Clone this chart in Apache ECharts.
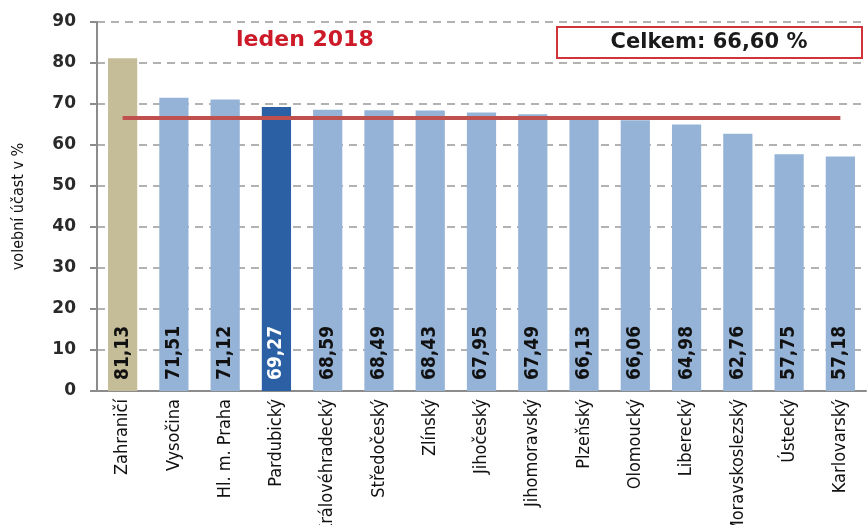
<!DOCTYPE html>
<html>
<head>
<meta charset="utf-8">
<script src="https://cdn.jsdelivr.net/npm/echarts@6/dist/echarts.min.js"></script>
<style>
    html, body { margin: 0; padding: 0; background: #fff; }
    #volebni_ucast { width: 867px; height: 525px; }
</style>
</head>
<body>
<div id="volebni_ucast"></div>
<script>
// volební účast podle krajů, leden 2018
const kraje = ['Zahraničí', 'Vysočina', 'Hl. m. Praha', 'Pardubický', 'Královéhradecký', 'Středočeský', 'Zlínský',
    'Jihočeský', 'Jihomoravský', 'Plzeňský', 'Olomoucký', 'Liberecký', 'Moravskoslezský', 'Ústecký', 'Karlovarský'];
const ucast = [81.13, 71.51, 71.12, 69.27, 68.59, 68.49, 68.43, 67.95, 67.49, 66.13, 66.06, 64.98, 62.76, 57.75, 57.18];
const celkem = 66.60;
const yTicks = [0, 90, 10]; // min, max, interval

const narrow = '"Liberation Sans Narrow", "DejaVu Sans Condensed", sans-serif';
const wide = '"DejaVu Sans", Verdana, sans-serif';

function barColor (name) {
    if (name === 'Zahraničí') return '#c4bd97';
    if (name === 'Pardubický') return '#2b60a5';
    return '#95b3d7';
}

let chart = echarts.init(document.getElementById('volebni_ucast'));
const option = {
    animation: false,
    grid: { left: 97, right: 1, top: 22, bottom: 134, containLabel: false, outerBoundsMode: 'none' },
    graphic: [
        {
            type: 'text', left: 236, top: 29,
            style: { text: 'leden 2018', fill: '#cc1a28', font: 'bold 22px ' + wide }
        },
        {
            type: 'rect', shape: { x: 557, y: 27, width: 305, height: 31 },
            style: { fill: '#fff', stroke: '#d0343a', lineWidth: 2 }
        },
        {
            type: 'text', x: 709, y: 43,
            style: { text: 'Celkem: ' + celkem.toFixed(2).replace('.', ',') + ' %', fill: '#1a1a1a',
                font: 'bold 21px ' + wide, align: 'center', verticalAlign: 'middle' }
        }
    ],
    xAxis: {
        type: 'category',
        data: kraje,
        axisLine: { lineStyle: { color: '#8c8c8c', width: 2 } },
        axisTick: { alignWithLabel: false, length: 6, lineStyle: { color: '#8c8c8c', width: 2 } },
        axisLabel: { rotate: 90, margin: 8, fontSize: 18, fontFamily: narrow, color: '#111', interval: 0 }
    },
    yAxis: {
        type: 'value',
        min: yTicks[0], max: yTicks[1], interval: yTicks[2],
        name: 'volební účast v %',
        nameLocation: 'middle',
        nameGap: 70,
        nameRotate: 90,
        nameTextStyle: { fontSize: 16, fontFamily: narrow, color: '#111' },
        axisLine: { show: true, lineStyle: { color: '#8c8c8c', width: 2 } },
        axisTick: { show: true, length: 7, lineStyle: { color: '#8c8c8c', width: 2 } },
        axisLabel: { margin: 21, fontSize: 17, fontWeight: 'bold', fontFamily: wide, color: '#2a2a2a' },
        splitLine: { lineStyle: { color: '#999', type: [8, 6], width: 1.5 } }
    },
    series: [{
        type: 'bar',
        barWidth: '57%',
        data: ucast.map((v, i) => ({
            value: v,
            itemStyle: { color: barColor(kraje[i]) },
            label: { color: kraje[i] === 'Pardubický' ? '#fff' : '#111' }
        })),
        label: {
            show: true,
            position: 'insideBottom',
            rotate: 90,
            align: 'left',
            verticalAlign: 'middle',
            distance: 11,
            fontSize: 19,
            fontWeight: 'bold',
            fontFamily: narrow,
            formatter: p => p.value.toFixed(2).replace('.', ',')
        },
        markLine: {
            symbol: 'none',
            silent: true,
            label: { show: false },
            lineStyle: { color: '#c0504d', width: 4, type: 'solid' },
            data: [[{ coord: [kraje[0], celkem] }, { coord: [kraje[kraje.length - 1], celkem] }]]
        }
    }]
};
chart.setOption(option);
</script>
</body>
</html>
